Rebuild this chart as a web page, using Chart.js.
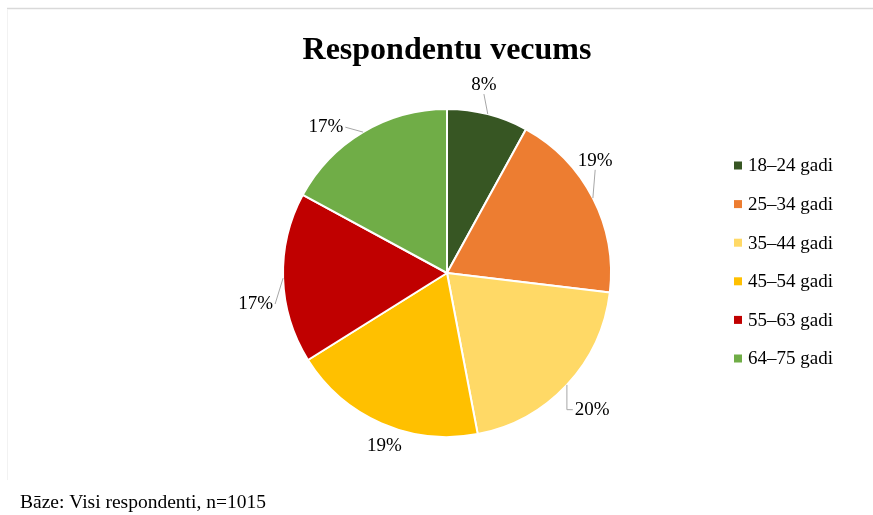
<!DOCTYPE html>
<html>
<head>
<meta charset="utf-8">
<script src="https://cdn.jsdelivr.net/npm/chart.js@4/dist/chart.umd.min.js"></script>
<style>
  html, body { margin: 0; padding: 0; background: #fff; }
  #wrap { width: 873px; height: 515px; position: relative; }
</style>
</head>
<body>
<div id="wrap"><canvas id="chart"></canvas></div>
<script>
    'use strict';

    // Data
    const ageGroups = ['18–24 gadi', '25–34 gadi', '35–44 gadi', '45–54 gadi', '55–63 gadi', '64–75 gadi'];
    const shares = [8.0, 18.9, 20.1, 19.1, 16.8, 17.1];
    const sliceColors = ['#375623', '#ED7D31', '#FFD966', '#FFC000', '#C00000', '#70AD47'];
    const chartTitle = 'Respondentu vecums';
    const footNote = 'Bāze: Visi respondenti, n=1015';

    const SERIF = '"Liberation Serif", "Times New Roman", serif';

    // nudges for the outside labels (Excel moved some of them by hand)
    const labelNudge = [[-12, -1], [-31, -24], [-2, 5], [18, -4], [10, 25], [-18, 20]];

    const frame = {
        id: 'frame',
        beforeDraw(chart) {
            const ctx = chart.ctx;
            ctx.save();
            ctx.strokeStyle = '#D9D9D9';
            ctx.lineWidth = 1.5;
            ctx.beginPath();
            ctx.moveTo(7, 8.5);
            ctx.lineTo(chart.width, 8.5);
            ctx.stroke();
            ctx.strokeStyle = '#F2F2F2';
            ctx.lineWidth = 1;
            ctx.beginPath();
            ctx.moveTo(7.5, 9);
            ctx.lineTo(7.5, 480);
            ctx.stroke();

            ctx.fillStyle = '#000';
            ctx.font = 'bold 32px ' + SERIF;
            ctx.textAlign = 'center';
            ctx.textBaseline = 'alphabetic';
            const area = chart.chartArea;
            ctx.fillText(chartTitle, (area.left + area.right) / 2, 59);

            ctx.font = '19.5px ' + SERIF;
            ctx.textAlign = 'left';
            ctx.fillText(footNote, 20, 508);
            ctx.restore();
        }
    };

    const sideLegend = {
        id: 'sideLegend',
        afterDraw(chart) {
            const ctx = chart.ctx;
            const ds = chart.data.datasets[0];
            ctx.save();
            ctx.font = '19px ' + SERIF;
            ctx.textBaseline = 'middle';
            ctx.textAlign = 'left';
            chart.data.labels.forEach((lab, i) => {
                const y = 165.5 + i * 38.6;
                ctx.fillStyle = ds.backgroundColor[i];
                ctx.fillRect(734, y - 4, 8, 8);
                ctx.fillStyle = '#000';
                ctx.fillText(lab, 748, y + 1);
            });
            ctx.restore();
        }
    };

    const outsideLabels = {
        id: 'outsideLabels',
        afterDatasetsDraw(chart) {
            const ctx = chart.ctx;
            const meta = chart.getDatasetMeta(0);
            ctx.save();
            ctx.font = '19px ' + SERIF;
            ctx.textAlign = 'center';
            ctx.textBaseline = 'middle';
            meta.data.forEach((arc, i) => {
                const p = arc.getProps(['x', 'y', 'startAngle', 'endAngle', 'outerRadius'], true);
                const mid = (p.startAngle + p.endAngle) / 2;
                const ux = Math.cos(mid), uy = Math.sin(mid);
                const txt = Math.round(chart.data.datasets[0].data[i]) + '%';
                const w = ctx.measureText(txt).width, h = 18;
                const r = p.outerRadius + 20;
                const cx = p.x + ux * r + ux * w / 2 + labelNudge[i][0];
                const cy = p.y + uy * r + uy * h / 2 + labelNudge[i][1];

                // leader line from slice edge to the nearest side of the label
                const ax = p.x + ux * p.outerRadius;
                const ay = p.y + uy * p.outerRadius;
                let sx, sy, side;
                if (ax < cx - w / 2 || ax > cx + w / 2) {
                    sx = cx + Math.sign(ax - cx) * (w / 2 + 2); sy = cy; side = 'h';
                } else {
                    sx = cx; sy = cy + Math.sign(ay - cy) * (h / 2); side = 'v';
                }
                if (Math.hypot(ax - sx, ay - sy) > 16) {
                    ctx.strokeStyle = '#A6A6A6';
                    ctx.lineWidth = 1;
                    ctx.beginPath();
                    ctx.moveTo(sx, sy);
                    if (side === 'h' && Math.abs(ax - sx) < 6) ctx.lineTo(ax, sy);
                    ctx.lineTo(ax, ay);
                    ctx.stroke();
                }
                ctx.fillStyle = '#000';
                ctx.fillText(txt, cx, cy);
            });
            ctx.restore();
        }
    };

    new Chart(document.getElementById('chart'), {
        type: 'pie',
        data: {
            labels: ageGroups,
            datasets: [{
                data: shares,
                backgroundColor: sliceColors,
                borderColor: '#ffffff',
                borderWidth: 2,
                hoverOffset: 0
            }]
        },
        options: {
            responsive: true,
            maintainAspectRatio: false,
            animation: false,
            events: [],
            layout: {
                padding: { top: 108, right: 261, bottom: 77, left: 282 }
            },
            plugins: {
                legend: { display: false },
                title: { display: false },
                tooltip: { enabled: false }
            }
        },
        plugins: [frame, outsideLabels, sideLegend]
    });
</script>
</body>
</html>
